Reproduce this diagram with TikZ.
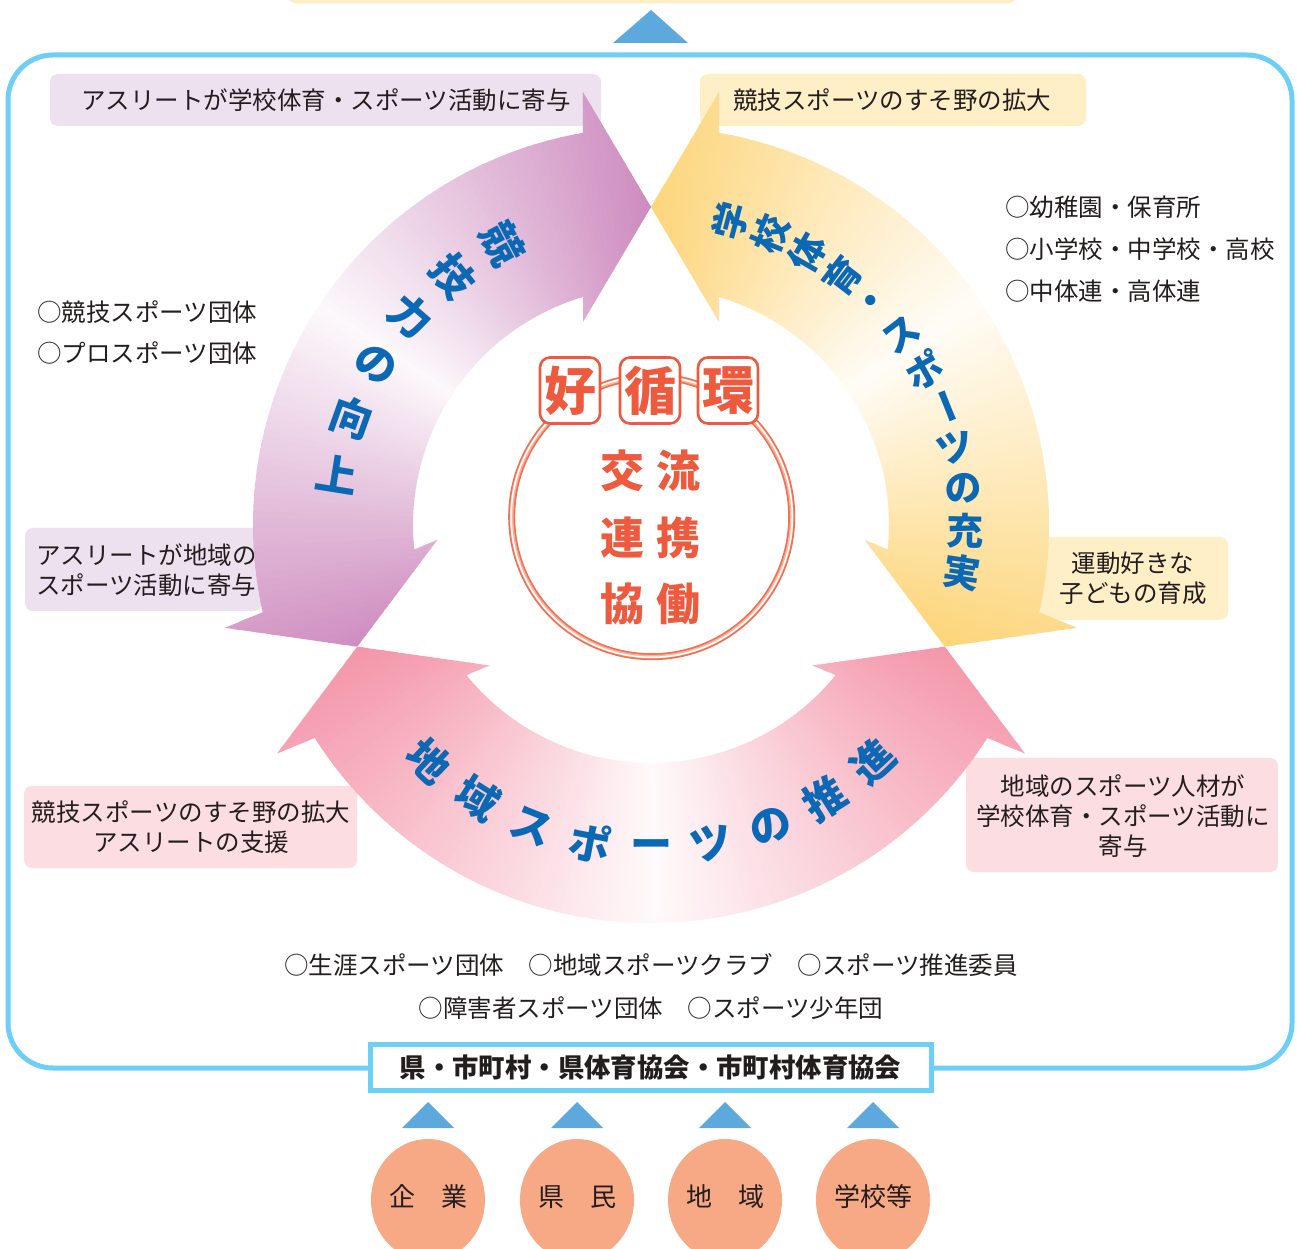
\documentclass[tikz,border=0pt]{standalone}
\usepackage{fontspec}
\setmainfont{Noto Sans CJK JP}
\usetikzlibrary{calc}
\definecolor{frameblue}{RGB}{109,207,246}
\definecolor{triblue}{RGB}{93,168,221}
\definecolor{ellor}{RGB}{247,169,133}
\definecolor{purpD}{RGB}{206,140,191}
\definecolor{yellD}{RGB}{253,213,122}
\definecolor{pinkD}{RGB}{244,150,170}
\definecolor{boxP}{RGB}{237,225,239}
\definecolor{boxY}{RGB}{254,239,199}
\definecolor{boxK}{RGB}{252,221,226}
\definecolor{arcblue}{RGB}{10,104,181}
\definecolor{redt}{RGB}{238,90,62}
\definecolor{ringR}{RGB}{240,112,82}
\definecolor{ringL}{RGB}{249,178,158}
\definecolor{txt}{RGB}{35,30,30}
\definecolor{topY}{RGB}{255,246,210}
\tikzset{
  lbl/.style={font=\fontsize{24.5}{30}\selectfont, text=txt, inner sep=0pt, align=center},
  lbll/.style={font=\fontsize{24.5}{30}\selectfont, text=txt, inner sep=0pt, align=left},
  arcP/.style={font=\bfseries\fontsize{42}{42}\selectfont, text=arcblue, inner sep=0pt},
  arcY/.style={font=\bfseries\fontsize{37}{37}\selectfont, text=arcblue, inner sep=0pt},
  badge/.style={draw=redt, line width=2.6pt, fill=white, rounded corners=10pt, minimum width=60pt, minimum height=66pt, inner sep=0pt, text=redt, font=\bfseries\fontsize{52}{52}\selectfont},
  ctr/.style={text=redt, inner sep=0pt, font=\bfseries\fontsize{44}{44}\selectfont},
  tri/.style={fill=triblue},
  elltxt/.style={font=\fontsize{26}{26}\selectfont, text=txt, inner sep=0pt}
}
\begin{document}
\begin{tikzpicture}[x=1pt,y=1pt]
\useasboundingbox (0,0) rectangle (1297,1248);
\clip (0,0) rectangle (1297,1248);
\fill[white] (0,0) rectangle (1297,1248);

% top strip and triangle
\draw[fill=topY, draw=yellD!45, line width=3pt, rounded corners=12pt] (286,1246) rectangle (1018,1300);
\fill[tri] (613,1205) -- (688,1205) -- (651,1238) -- cycle;

% outer frame
\draw[frameblue, line width=5pt, rounded corners=45pt] (8,180) rectangle (1292,1193);

% label boxes
\fill[boxP, rounded corners=8pt] (50,1122) rectangle (601,1174);
\node[lbl] (lblA) at (326,1148) {アスリートが学校体育・スポーツ活動に寄与};
\fill[boxY, rounded corners=8pt] (700,1122) rectangle (1086,1174);
\node[lbl] (lblB) at (892,1148) {競技スポーツのすそ野の拡大};
\fill[boxP, rounded corners=8pt] (25,637) rectangle (262,720);
\node[lbll, anchor=west] (lblC) at (36,678) {アスリートが地域の\\スポーツ活動に寄与};
\fill[boxY, rounded corners=8pt] (1040,628) rectangle (1228,711);
\node[lbl] (lblD) at (1133,670) {運動好きな\\子どもの育成};
\fill[boxK, rounded corners=8pt] (24,380) rectangle (357,462);
\node[lbl] (lblE) at (191,421) {競技スポーツのすそ野の拡大\\アスリートの支援};
\fill[boxK, rounded corners=8pt] (966,376) rectangle (1278,490);
\node[lbl] (lblF) at (1123,432) {地域のスポーツ人材が\\学校体育・スポーツ活動に\\寄与};

% lists
\node[lbll, anchor=west] (l1) at (37,936) {○競技スポーツ団体};
\node[lbll, anchor=west] (l2) at (37,895) {○プロスポーツ団体};
\node[lbll, anchor=west] (r1) at (1005,1041) {○幼稚園・保育所};
\node[lbll, anchor=west] (r2) at (1005,999) {○小学校・中学校・高校};
\node[lbll, anchor=west] (r3) at (1005,957) {○中体連・高体連};
\node[lbl] (b1) at (651,283) {○生涯スポーツ団体　○地域スポーツクラブ　○スポーツ推進委員};
\node[lbl] (b2) at (651,240) {○障害者スポーツ団体　○スポーツ少年団};

% ring bands
\begin{scope}[shift={(651,723)}]
 \begin{scope}
  \clip (90:318) -- (98.93:438.3) -- (99.84:398) arc[start angle=99.84, end angle=192.66, radius=398] -- (193.57:438.3) -- (202.5:318) -- (183.98:214.1) -- (185.9:238) arc[start angle=185.9, end angle=106.6, radius=238] -- (108.52:214.1) -- cycle;
  \foreach \a in {86,87,...,206}{
    \pgfmathsetmacro\p{min(100,6+94*abs(\a-146.25)/56.25)}
    \fill[purpD!\p!white] (0,0) -- (\a:480) -- ({\a+1.25}:480) -- cycle;
  }
 \end{scope}
 \begin{scope}
  \clip (90:318) -- (81.07:438.3) -- (80.16:398) arc[start angle=80.16, end angle=-12.66, radius=398] -- (-13.57:438.3) -- (-22.5:318) -- (-3.98:214.1) -- (-5.9:238) arc[start angle=-5.9, end angle=73.4, radius=238] -- (71.48:214.1) -- cycle;
  \foreach \a in {-27,-26,...,93}{
    \pgfmathsetmacro\p{min(100,6+94*abs(\a-33.75)/56.25)}
    \fill[yellD!\p!white] (0,0) -- (\a:480) -- ({\a+1.25}:480) -- cycle;
  }
 \end{scope}
 \begin{scope}
  \clip (-22.5:318) -- (-31.43:438.3) -- (-32.34:398) arc[start angle=-32.34, end angle=-147.66, radius=398] -- (-148.57:438.3) -- (-157.5:318) -- (-138.98:214.1) -- (-140.9:238) arc[start angle=-140.9, end angle=-39.1, radius=238] -- (-41.02:214.1) -- cycle;
  \foreach \a in {-162,-161,...,-18}{
    \pgfmathsetmacro\p{min(100,5+95*abs(\a+90)/67.5)}
    \fill[pinkD!\p!white] (0,0) -- (\a:480) -- ({\a+1.25}:480) -- cycle;
  }
 \end{scope}
 % arc texts
 \foreach \c [count=\i from 0] in {競,技,力,の,向,上}{
   \pgfmathsetmacro\t{117.9+10.6*\i}
   \node[arcP, rotate=\t-180] (p\i) at (\t:318) {\c};
 }
 \foreach \c [count=\i from 0] in {学,校,体,育,・,ス,ポ,ー,ツ,の,充,実}{
   \pgfmathsetmacro\t{75.3-7.63*\i}
   \pgfmathsetmacro\rr{\i==7 ? \t-90 : \t}
   \node[arcY, rotate=\rr] (y\i) at (\t:314) {\c};
 }
 \foreach \c [count=\i from 0] in {地,域,ス,ポ,ー,ツ,の,推,進}{
   \pgfmathsetmacro\t{-133.2+10.8*\i}
   \node[arcP, rotate=\t+90] (k\i) at (\t:324) {\c};
 }
\end{scope}

% center circle
\coordinate (cc) at (651.7,731.3);
\draw[ringR, line width=7pt] (cc) circle[radius=140];
\draw[ringL, line width=3.6pt] (cc) circle[radius=140];
\draw[white, line width=1.6pt] (cc) circle[radius=140.6];
\node[badge] (g1) at (570,857.5) {好};
\node[badge] (g2) at (650,857.5) {循};
\node[badge] (g3) at (728,857.5) {環};
\node[ctr] (c1) at (622,777) {交};
\node[ctr] (c2) at (678,777) {流};
\node[ctr] (c3) at (622,710) {連};
\node[ctr] (c4) at (678,710) {携};
\node[ctr] (c5) at (622,644) {協};
\node[ctr] (c6) at (678,644) {働};

% bottom organisation box
\node[draw=frameblue, line width=5pt, fill=white, minimum width=561pt, minimum height=46pt, inner sep=0pt, text=txt, font=\bfseries\fontsize{26.4}{26.4}\selectfont] (org) at (650.5,181) {県・市町村・県体育協会・市町村体育協会};

% triangles and ellipses
\foreach \x/\t [count=\i] in {428/企　業, 577/県　民, 725/地　域, 873/学校等}{
  \fill[tri] (\x-26,120) -- (\x+26,120) -- (\x,146) -- cycle;
  \fill[ellor] (\x,48) ellipse[x radius=57, y radius=61];
  \node[elltxt] (e\i) at (\x,51) {\t};
}
\end{tikzpicture}
\end{document}
